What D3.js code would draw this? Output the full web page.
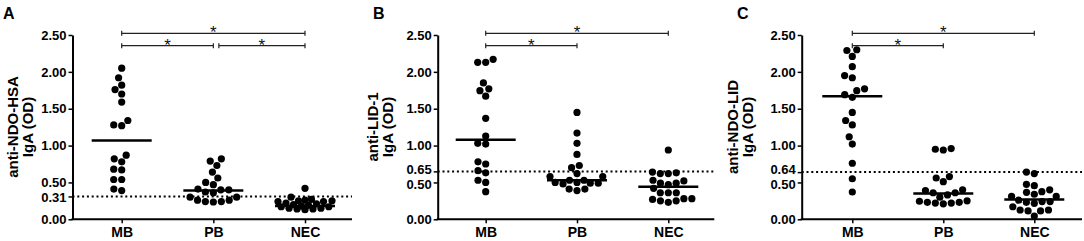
<!DOCTYPE html>
<html>
<head>
<meta charset="utf-8">
<script src="https://cdn.jsdelivr.net/npm/d3@7"></script>
<style>
    body { margin: 0; background: #fff; }
    svg { display: block; font-family: "Liberation Sans", Arial, sans-serif; }
</style>
</head>
<body>
<div id="chart"></div>
<script>
// categories
const groups = ["MB", "PB", "NEC"];

// panel A: anti-NDO-HSA IgA (OD)
const ndoHsaMB = [2.05, 1.92, 1.82, 1.76, 1.70, 1.59, 1.34, 1.28, 1.27, 0.87, 0.82, 0.78, 0.68, 0.67, 0.54, 0.54, 0.41, 0.39];
const ndoHsaPB = [0.82, 0.79, 0.73, 0.64, 0.56, 0.50, 0.47, 0.41, 0.40, 0.40, 0.37, 0.36, 0.30, 0.26, 0.24, 0.235, 0.24, 0.26, 0.30];
const ndoHsaNEC = [0.42, 0.30, 0.26, 0.25, 0.24, 0.24, 0.25, 0.27, 0.22, 0.20, 0.18, 0.17, 0.15, 0.14, 0.13, 0.14, 0.15, 0.17, 0.19, 0.21];
const ndoHsaMedians = [1.07, 0.39, 0.18];
const ndoHsaCutoff = 0.31;

// panel B: anti-LID-1 IgA (OD)
const lid1MB = [2.17, 2.13, 2.13, 1.85, 1.77, 1.745, 1.67, 1.37, 1.13, 1.03, 1.02, 0.78, 0.75, 0.66, 0.63, 0.53, 0.50, 0.375];
const lid1PB = [1.45, 1.17, 1.03, 0.88, 0.73, 0.70, 0.62, 0.58, 0.58, 0.53, 0.53, 0.50, 0.49, 0.49, 0.50, 0.48, 0.41, 0.39, 0.41];
const lid1NEC = [0.94, 0.64, 0.62, 0.62, 0.63, 0.52, 0.49, 0.49, 0.53, 0.47, 0.42, 0.36, 0.36, 0.36, 0.28, 0.25, 0.23, 0.25, 0.27, 0.28];
const lid1Medians = [1.08, 0.53, 0.44];
const lid1Cutoff = 0.65;

// panel C: anti-NDO-LID IgA (OD)
const ndoLidMB = [2.30, 2.29, 2.21, 2.07, 1.95, 1.92, 1.77, 1.745, 1.69, 1.655, 1.45, 1.34, 1.28, 1.12, 1.02, 0.76, 0.55, 0.37];
const ndoLidPB = [0.96, 0.95, 0.94, 0.58, 0.56, 0.51, 0.40, 0.39, 0.36, 0.36, 0.33, 0.30, 0.25, 0.23, 0.22, 0.21, 0.22, 0.23, 0.245];
const ndoLidNEC = [0.64, 0.62, 0.475, 0.456, 0.40, 0.375, 0.366, 0.34, 0.31, 0.31, 0.26, 0.24, 0.24, 0.23, 0.217, 0.17, 0.126, 0.126, 0.113, 0.113, 0.045];
const ndoLidMedians = [1.67, 0.35, 0.27];
const ndoLidCutoff = 0.64;

// axis ticks
const baseTicks = [0, 0.5, 1, 1.5, 2, 2.5];

// significance brackets [from, to, level]
const bracketsA = [["MB", "NEC", 0], ["MB", "PB", 1], ["PB", "NEC", 1]];
const bracketsBC = [["MB", "NEC", 0], ["MB", "PB", 1]];

class DotPanel {
    constructor(svg, cfg) {
        this.svg = svg;
        this.cfg = cfg;
        this.initVis();
    }

    initVis() {
        let vis = this;
        let c = vis.cfg;

        vis.g = vis.svg.append("g");

        vis.y = d3.scaleLinear().domain([0, 2.5]).range([219.3, 35]);
        vis.x = d3.scalePoint().domain(groups).range(c.catRange);

        // panel letter
        vis.g.append("text")
            .attr("x", c.letterX)
            .attr("y", 19)
            .attr("font-size", "16px")
            .attr("font-weight", "bold")
            .text(c.letter);

        // y title, two lines
        vis.g.selectAll(".ytitle")
            .data(c.title)
            .enter()
            .append("text")
            .attr("class", "ytitle")
            .attr("transform", (d, i) => `translate(${c.left + 18 + i * 14.5}, 127) rotate(-90)`)
            .attr("text-anchor", "middle")
            .attr("font-size", "15px")
            .attr("font-weight", "bold")
            .text(d => d);

        // y axis
        let yAxis = d3.axisLeft(vis.y)
            .tickValues(baseTicks.concat([c.cutoff]))
            .tickFormat(d3.format(".2f"))
            .tickSize(4)
            .tickSizeOuter(0)
            .tickPadding(2);
        let ya = vis.g.append("g")
            .attr("transform", `translate(${c.axisX},0)`)
            .call(yAxis);
        ya.select(".domain").attr("stroke-width", 2).attr("stroke", "#000");
        ya.selectAll(".tick line").attr("stroke-width", 1.5).attr("stroke", "#000");
        ya.selectAll(".tick text")
            .attr("font-size", "13px")
            .attr("font-weight", "bold")
            .attr("font-family", "Liberation Sans, Arial, sans-serif")
            .attr("fill", "#000");

        // cutoff label sits close to 0.50, push the pair apart just enough
        let gap = Math.abs(vis.y(c.cutoff) - vis.y(0.5));
        if (gap < 15) {
            let push = (15 - gap) / 2;
            let up = c.cutoff > 0.5 ? c.cutoff : 0.5;
            ya.selectAll(".tick text")
                .filter(d => d === c.cutoff || d === 0.5)
                .attr("dy", d => (d === up ? 4.2 - push : 4.2 + push) + "px");
        }

        // x axis line
        vis.g.append("line")
            .attr("x1", c.axisX - 1)
            .attr("x2", c.xEnd)
            .attr("y1", vis.y(0))
            .attr("y2", vis.y(0))
            .attr("stroke", "#000")
            .attr("stroke-width", 2);

        let xAxis = d3.axisBottom(vis.x).tickSize(4).tickPadding(4);
        let xa = vis.g.append("g")
            .attr("transform", `translate(0,${vis.y(0)})`)
            .call(xAxis);
        xa.select(".domain").remove();
        xa.selectAll(".tick line").attr("stroke-width", 1.5).attr("stroke", "#000");
        xa.selectAll(".tick text")
            .attr("font-size", "14px")
            .attr("font-weight", "bold")
            .attr("font-family", "Liberation Sans, Arial, sans-serif")
            .attr("fill", "#000");

        // cutoff dotted line
        vis.g.append("line")
            .attr("x1", c.axisX)
            .attr("x2", c.xEnd)
            .attr("y1", vis.y(c.cutoff))
            .attr("y2", vis.y(c.cutoff))
            .attr("stroke", "#000")
            .attr("stroke-width", 2)
            .attr("stroke-dasharray", "2,2.8");

        this.drawBrackets();
        this.drawDots();
    }

    drawBrackets() {
        let vis = this;
        let levelY = [33.3, 45.7];
        let ends = {};
        vis.cfg.brackets.forEach(b => {
            let x1 = vis.x(b[0]), x2 = vis.x(b[1]), yy = levelY[b[2]];
            // leave a small gap where two brackets meet on the same level
            if (ends[b[2] + b[0]]) x1 += 5.5;
            ends[b[2] + b[1]] = true;
            let grp = vis.g.append("g").attr("stroke", "#222").attr("stroke-width", 1.2);
            grp.append("line").attr("x1", x1).attr("x2", x2).attr("y1", yy).attr("y2", yy);
            grp.append("line").attr("x1", x1).attr("x2", x1).attr("y1", yy - 2.5).attr("y2", yy + 2.5);
            grp.append("line").attr("x1", x2).attr("x2", x2).attr("y1", yy - 2.5).attr("y2", yy + 2.5);
            vis.g.append("text")
                .attr("x", (x1 + x2) / 2)
                .attr("y", yy + 5)
                .attr("text-anchor", "middle")
                .attr("font-size", "17px")
                .attr("fill", "#111")
                .text("*");
        });
    }

    // simple beeswarm: lowest values first, nearest free offset to the centre,
    // kept inside the median bar width (dots may overlap when it gets crowded)
    swarm(values, cx) {
        let vis = this;
        let D = 8, maxHalf = 27;
        let placed = [];
        let dist2 = (a, px, py) => (a.dx - px) * (a.dx - px) + (a.y - py) * (a.y - py);
        values.slice().sort((a, b) => a - b).forEach(v => {
            let py = vis.y(v);
            let cands = [0];
            placed.forEach(p => {
                let dy = Math.abs(p.y - py);
                if (dy < D) {
                    let dx = Math.sqrt(D * D - dy * dy);
                    cands.push(p.dx + dx, p.dx - dx);
                }
            });
            cands.sort((a, b) => Math.abs(a) - Math.abs(b) || a - b);
            let best = cands.find(c0 => placed.every(p => dist2(p, c0, py) >= D * D - 0.01));
            if (Math.abs(best) > maxHalf) {
                // crowded: pick the spot inside the bar with the most room
                let bestScore = -1;
                for (let c0 = -maxHalf; c0 <= maxHalf; c0 += 0.5) {
                    let m = d3.min(placed, p => dist2(p, c0, py));
                    if (m > bestScore + 0.01) { bestScore = m; best = c0; }
                }
            }
            placed.push({dx: best, y: py, v: v});
        });
        return placed.map(p => ({x: cx + p.dx, y: p.y, v: p.v}));
    }

    drawDots() {
        let vis = this;
        groups.forEach((grp, i) => {
            let cx = vis.x(grp);
            let pts = vis.swarm(vis.cfg.series[i], cx);

            vis.g.selectAll(".dot-" + grp)
                .data(pts)
                .enter()
                .append("circle")
                .attr("class", "dot-" + grp)
                .attr("cx", d => d.x)
                .attr("cy", d => d.y)
                .attr("r", 3.6)
                .attr("fill", "#000");

            // median bar
            vis.g.append("line")
                .attr("x1", cx - 30)
                .attr("x2", cx + 30)
                .attr("y1", vis.y(vis.cfg.medians[i]))
                .attr("y2", vis.y(vis.cfg.medians[i]))
                .attr("stroke", "#000")
                .attr("stroke-width", 2.5);
        });
    }
}

const svg = d3.select("#chart").append("svg")
    .attr("width", 1084)
    .attr("height", 241);

new DotPanel(svg, {
    letter: "A", letterX: 3, left: 0,
    title: ["anti-NDO-HSA", "IgA (OD)"],
    axisX: 72.5, catRange: [121.7, 305], xEnd: 352,
    series: [ndoHsaMB, ndoHsaPB, ndoHsaNEC],
    medians: ndoHsaMedians, cutoff: ndoHsaCutoff,
    brackets: bracketsA
});
new DotPanel(svg, {
    letter: "B", letterX: 373, left: 360,
    title: ["anti-LID-1", "IgA (OD)"],
    axisX: 437.7, catRange: [485.7, 668.3], xEnd: 714.3,
    series: [lid1MB, lid1PB, lid1NEC],
    medians: lid1Medians, cutoff: lid1Cutoff,
    brackets: bracketsBC
});
new DotPanel(svg, {
    letter: "C", letterX: 737, left: 720,
    title: ["anti-NDO-LID", "IgA (OD)"],
    axisX: 801.7, catRange: [852.3, 1034.3], xEnd: 1082,
    series: [ndoLidMB, ndoLidPB, ndoLidNEC],
    medians: ndoLidMedians, cutoff: ndoLidCutoff,
    brackets: bracketsBC
});
</script>
</body>
</html>
